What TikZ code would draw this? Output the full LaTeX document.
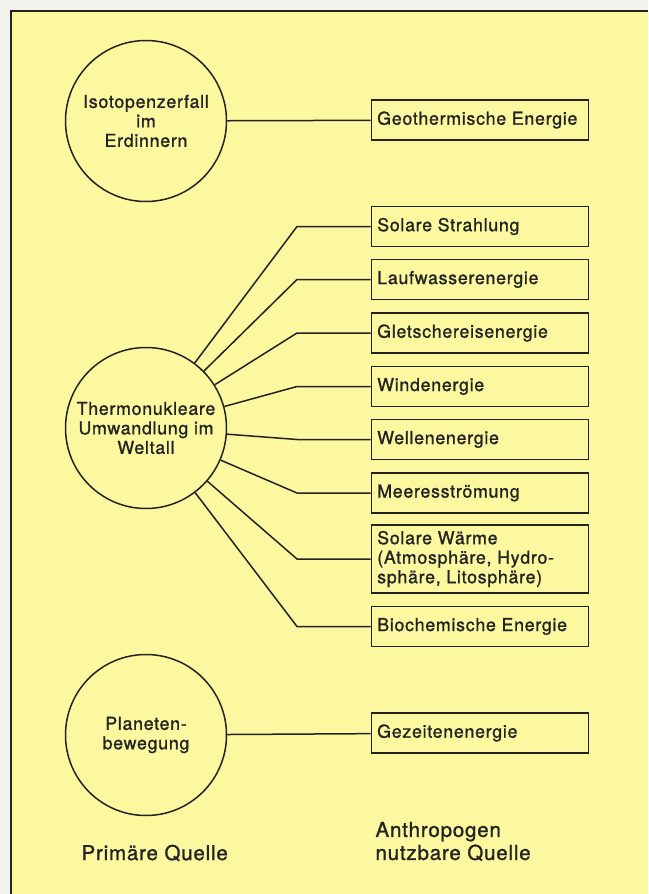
\documentclass[tikz,border=0pt]{standalone}
\usepackage{fontspec}
\setmainfont[LetterSpace=4,FakeBold=1.2]{TeX Gyre Heros}

\definecolor{paper}{RGB}{243,243,238}
\definecolor{chart}{RGB}{252,248,160}
\definecolor{ink}{RGB}{35,35,35}

\begin{document}
\begin{tikzpicture}[
    x=1pt,y=-1pt,
    source/.style={draw=ink, circle, line width=1.5pt, minimum size=161pt,
      inner sep=0pt, align=center, text=ink,
      font=\fontsize{17.8}{19.5}\selectfont},
    usable/.style={draw=ink, rectangle, line width=1.5pt, anchor=west,
      minimum height=40pt, text width=205pt, inner xsep=6pt, inner ysep=0pt,
      align=flush left, text=ink, font=\fontsize{17.8}{19.5}\selectfont},
    link/.style={draw=ink, line width=1.5pt},
    heading/.style={anchor=west, align=left, text=ink,
      font=\fontsize{20.5}{23}\selectfont}
  ]
    \useasboundingbox (0,0) rectangle (648,894);
    \fill[paper] (0,0) rectangle (648,894);
    \fill[chart] (11,11) rectangle (648,894);
    \draw[ink, line width=1.8pt] (11,894) -- (11,11) -- (648,11);

    % primary sources
    \node[source] (iso) at (146,121) {Isotopenzerfall\\im\\Erdinnern};
    \node[source] (thermo) at (146,428) {Thermonukleare\\Umwandlung im\\Weltall};
    \node[source] (planet) at (146,735) {Planeten-\\bewegung};

    % usable sources
    \node[usable] (geo) at (370.5,120) {Geothermische Energie};
    \node[usable] (solar) at (370.5,226.5) {Solare Strahlung};
    \node[usable] (runoff) at (370.5,279.5) {Laufwasserenergie};
    \node[usable] (glacier) at (370.5,333) {Gletschereisenergie};
    \node[usable] (wind) at (370.5,386.5) {Windenergie};
    \node[usable] (waves) at (370.5,439.5) {Wellenenergie};
    \node[usable] (current) at (370.5,493) {Meeresströmung};
    \node[usable, minimum height=68pt] (heat) at (370.5,559)
      {Solare Wärme\\(Atmosphäre, Hydro-\\sphäre, Litosphäre)};
    \node[usable] (bio) at (370.5,626.5) {Biochemische Energie};
    \node[usable] (tides) at (370.5,733) {Gezeitenenergie};

    \node[heading] (primary) at (78,853) {Primäre Quelle};
    \node[heading] (anthro) at (372,841.5) {Anthropogen\\nutzbare Quelle};

    \coordinate (bend) at (297,0);

    \draw[link] (iso) -- (geo);
    \foreach \tgt in {solar,runoff,glacier,wind,waves,current,heat,bio}
      \draw[link] (thermo) -- (bend |- \tgt.west) -- (\tgt.west);
    \draw[link] (planet) -- (tides);
\end{tikzpicture}
\end{document}
